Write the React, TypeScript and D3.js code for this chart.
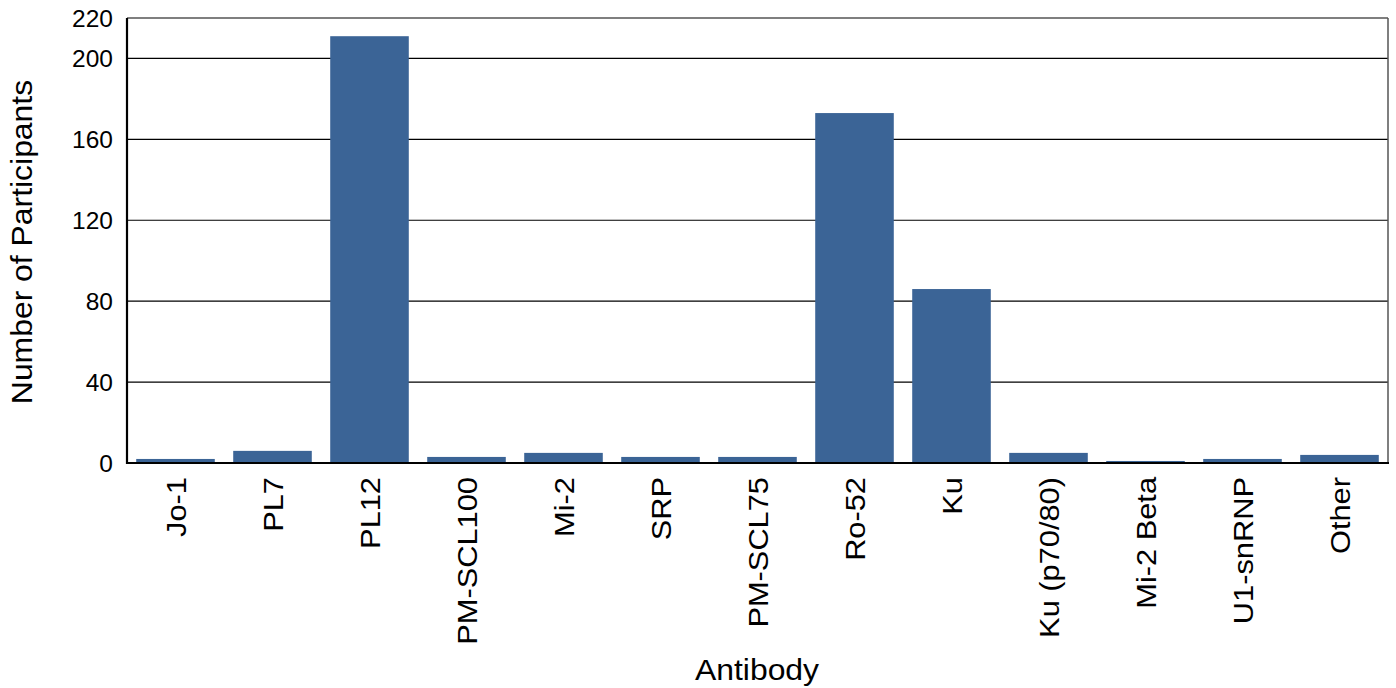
import React from "react";
import * as d3 from "d3";

const categories = ["Jo-1", "PL7", "PL12", "PM-SCL100", "Mi-2", "SRP", "PM-SCL75", "Ro-52", "Ku", "Ku (p70/80)", "Mi-2 Beta", "U1-snRNP", "Other"];
const values = [2, 6, 211, 3, 5, 3, 3, 173, 86, 5, 1, 2, 4];
const yTicks = [0, 40, 80, 120, 160, 200, 220];

const W = 1396, H = 688;
const m = { left: 127, right: 1388, top: 18, bottom: 463 };

export default function App() {
  const x = d3.scaleBand<string>().domain(categories).range([m.left, m.right]).paddingInner(0.19).paddingOuter(0.095);
  const y = d3.scaleLinear().domain([0, 220]).range([m.bottom, m.top]);
  const font = "Arial, 'Liberation Sans', Helvetica, sans-serif";
  return (
    <svg width={W} height={H} style={{ position: "absolute", left: 0, top: 0 }} fontFamily={font}>
      <rect x={0} y={0} width={W} height={H} fill="#fff" />
      {yTicks.filter(t => t > 0).map(t => (
        <line key={t} x1={m.left} x2={m.right} y1={y(t)} y2={y(t)} stroke="#000" strokeWidth={1.2} />
      ))}
      <line x1={m.right} x2={m.right} y1={m.top} y2={m.bottom} stroke="#555" strokeWidth={1.5} />
      {categories.map((c, i) => (
        <rect key={c} x={x(c)} width={x.bandwidth()} y={y(values[i])} height={y(0) - y(values[i]) + 1} fill="#3b6496" />
      ))}
      <line x1={m.left} x2={m.left} y1={m.top} y2={m.bottom + 1} stroke="#000" strokeWidth={2.2} />
      <line x1={m.left} x2={m.right + 1} y1={m.bottom} y2={m.bottom} stroke="#000" strokeWidth={2.2} />
      {yTicks.map(t => (
        <text key={t} x={m.left - 14} y={y(t)} dy="0.36em" textAnchor="end" fontSize={24.5} fill="#000">{t}</text>
      ))}
      {categories.map(c => {
        const cx = (x(c) as number) + x.bandwidth() / 2;
        return (
          <text key={c} transform={`translate(${cx},${m.bottom + 14}) rotate(-90) scale(1.1,1)`} textAnchor="end" dy="0.36em" fontSize={28} fill="#000">{c}</text>
        );
      })}
      <text transform={`translate(${22},${242}) rotate(-90) scale(1.1,1)`} textAnchor="middle" dy="0.36em" fontSize={29} fill="#000">Number of Participants</text>
      <text transform={`translate(${757},${680}) scale(1.1,1)`} textAnchor="middle" fontSize={29} fill="#000">Antibody</text>
    </svg>
  );
}
